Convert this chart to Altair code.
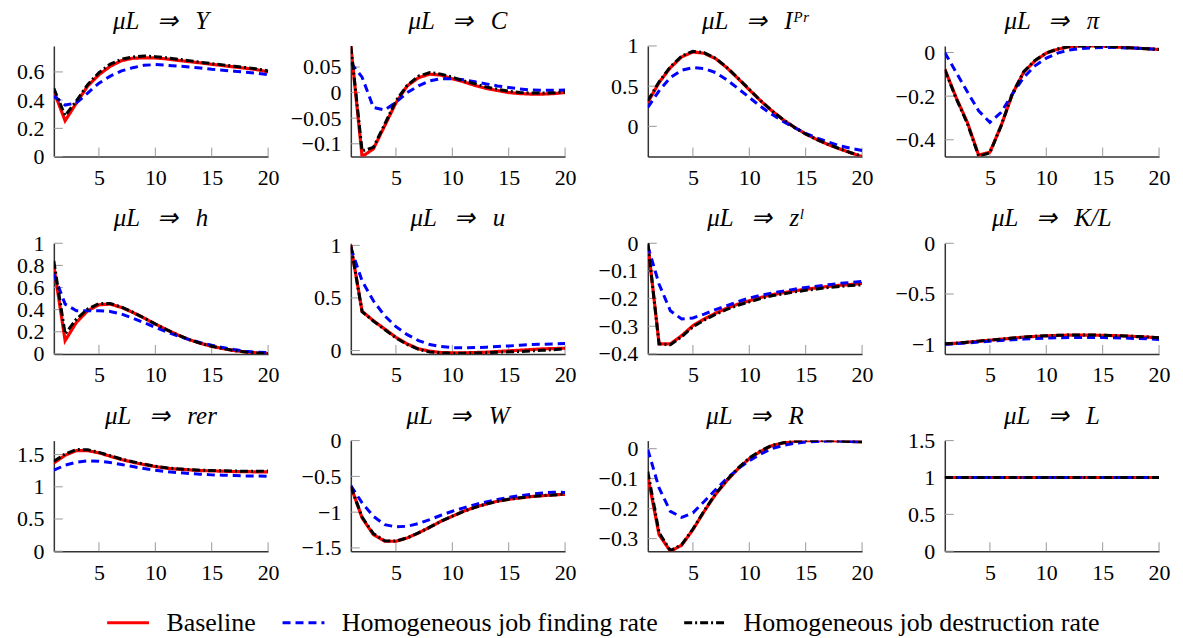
import altair as alt
import pandas as pd

T = list(range(1, 21))
SERIES = ["Baseline", "Homogeneous job finding rate", "Homogeneous job destruction rate"]
COLORS = ["#ff0000", "#0000ff", "#000000"]
DASHES = [[1, 0], [8, 5], [8, 3, 2, 3]]

# ---- panel titles ----
SP = "\u2002\u2009"
TITLES = [
    f"μL{SP}⇒{SP}Y", f"μL{SP}⇒{SP}C", f"μL{SP}⇒{SP}Iᴾʳ", f"μL{SP}⇒{SP}π",
    f"μL{SP}⇒{SP}h", f"μL{SP}⇒{SP}u", f"μL{SP}⇒{SP}zˡ", f"μL{SP}⇒{SP}K/L",
    f"μL{SP}⇒{SP}rer", f"μL{SP}⇒{SP}W", f"μL{SP}⇒{SP}R", f"μL{SP}⇒{SP}L",
]

# ---- series values (t = 1..20) ----
Y_base = [0.465, 0.254, 0.38, 0.50, 0.58, 0.64, 0.68, 0.697, 0.70, 0.699, 0.692, 0.682, 0.673, 0.664, 0.654, 0.645, 0.635, 0.626, 0.616, 0.60]
Y_find = [0.43, 0.365, 0.38, 0.45, 0.52, 0.57, 0.607, 0.63, 0.647, 0.652, 0.647, 0.642, 0.635, 0.628, 0.619, 0.612, 0.605, 0.598, 0.59, 0.58]
Y_destr = [0.483, 0.29, 0.395, 0.51, 0.595, 0.655, 0.69, 0.706, 0.713, 0.708, 0.70, 0.69, 0.68, 0.668, 0.659, 0.65, 0.64, 0.631, 0.621, 0.607]

C_base = [0.091, -0.125, -0.11, -0.065, -0.02, 0.013, 0.029, 0.036, 0.034, 0.027, 0.021, 0.014, 0.008, 0.004, 0.0, -0.002, -0.003, -0.003, -0.002, 0.0]
C_find = [0.058, 0.03, -0.029, -0.034, -0.019, 0.0, 0.013, 0.023, 0.027, 0.027, 0.025, 0.021, 0.017, 0.013, 0.010, 0.007, 0.005, 0.0045, 0.0045, 0.005]
C_destr = [0.091, -0.114, -0.107, -0.062, -0.016, 0.014, 0.032, 0.039, 0.036, 0.030, 0.023, 0.017, 0.011, 0.0065, 0.0026, 0.0, -0.001, -0.001, -0.0006, 0.001]

I_base = [0.298, 0.545, 0.73, 0.864, 0.926, 0.909, 0.843, 0.73, 0.595, 0.455, 0.318, 0.194, 0.083, -0.012, -0.095, -0.165, -0.227, -0.28, -0.33, -0.376]
I_find = [0.236, 0.442, 0.607, 0.698, 0.731, 0.719, 0.67, 0.579, 0.471, 0.36, 0.248, 0.149, 0.062, -0.017, -0.087, -0.145, -0.194, -0.24, -0.273, -0.30]
I_destr = [0.318, 0.555, 0.74, 0.875, 0.934, 0.915, 0.848, 0.735, 0.60, 0.46, 0.32, 0.195, 0.083, -0.012, -0.095, -0.165, -0.225, -0.278, -0.328, -0.372]

PI_base = [-0.076, -0.206, -0.32, -0.47, -0.457, -0.335, -0.19, -0.09, -0.038, -0.003, 0.015, 0.026, 0.03, 0.03, 0.029, 0.026, 0.023, 0.02, 0.017, 0.014]
PI_find = [0.0, -0.09, -0.18, -0.267, -0.32, -0.274, -0.19, -0.114, -0.061, -0.026, -0.003, 0.011, 0.018, 0.021, 0.023, 0.023, 0.021, 0.02, 0.017, 0.014]
PI_destr = [-0.078, -0.21, -0.325, -0.475, -0.46, -0.335, -0.188, -0.088, -0.036, -0.002, 0.016, 0.027, 0.03, 0.03, 0.029, 0.026, 0.023, 0.02, 0.017, 0.014]

H_base = [0.796, 0.12, 0.285, 0.39, 0.444, 0.45, 0.42, 0.375, 0.324, 0.27, 0.219, 0.171, 0.129, 0.096, 0.069, 0.048, 0.03, 0.018, 0.009, 0.003]
H_find = [0.72, 0.45, 0.39, 0.39, 0.39, 0.384, 0.36, 0.324, 0.282, 0.24, 0.2, 0.162, 0.129, 0.102, 0.078, 0.057, 0.039, 0.024, 0.015, 0.012]
H_destr = [0.84, 0.18, 0.315, 0.405, 0.456, 0.455, 0.423, 0.377, 0.325, 0.27, 0.219, 0.171, 0.129, 0.096, 0.069, 0.048, 0.03, 0.018, 0.009, 0.003]

U_base = [1.0, 0.372, 0.284, 0.205, 0.126, 0.063, 0.016, -0.006, -0.019, -0.022, -0.022, -0.019, -0.016, -0.009, -0.003, 0.003, 0.009, 0.016, 0.019, 0.022]
U_find = [0.978, 0.662, 0.473, 0.331, 0.227, 0.151, 0.095, 0.057, 0.038, 0.028, 0.025, 0.028, 0.032, 0.038, 0.044, 0.05, 0.057, 0.06, 0.063, 0.066]
U_destr = [1.0, 0.37, 0.28, 0.2, 0.12, 0.058, 0.012, -0.013, -0.022, -0.025, -0.025, -0.023, -0.02, -0.016, -0.012, -0.009, -0.004, 0.002, 0.008, 0.016]

Z_base = [0.0, -0.364, -0.364, -0.334, -0.298, -0.274, -0.253, -0.235, -0.22, -0.208, -0.196, -0.186, -0.179, -0.172, -0.166, -0.161, -0.156, -0.152, -0.149, -0.145]
Z_find = [-0.01, -0.148, -0.244, -0.274, -0.27, -0.256, -0.24, -0.226, -0.211, -0.198, -0.188, -0.18, -0.173, -0.166, -0.16, -0.155, -0.15, -0.145, -0.142, -0.138]
Z_destr = [0.0, -0.364, -0.367, -0.338, -0.302, -0.278, -0.257, -0.239, -0.224, -0.212, -0.2, -0.19, -0.183, -0.176, -0.17, -0.165, -0.16, -0.156, -0.153, -0.15]

KL_base = [-0.99, -0.985, -0.975, -0.965, -0.955, -0.945, -0.935, -0.925, -0.918, -0.912, -0.908, -0.905, -0.904, -0.905, -0.907, -0.91, -0.914, -0.919, -0.925, -0.932]
KL_find = [-0.995, -0.99, -0.982, -0.973, -0.965, -0.957, -0.95, -0.944, -0.938, -0.934, -0.931, -0.929, -0.928, -0.928, -0.929, -0.931, -0.934, -0.938, -0.942, -0.947]
KL_destr = [-0.99, -0.985, -0.975, -0.964, -0.954, -0.944, -0.934, -0.924, -0.917, -0.911, -0.907, -0.904, -0.903, -0.904, -0.906, -0.909, -0.913, -0.918, -0.924, -0.931]

RER_base = [1.37, 1.49, 1.562, 1.562, 1.526, 1.474, 1.423, 1.381, 1.345, 1.314, 1.288, 1.273, 1.262, 1.252, 1.247, 1.242, 1.236, 1.236, 1.231, 1.231]
RER_find = [1.257, 1.335, 1.381, 1.402, 1.397, 1.376, 1.345, 1.314, 1.283, 1.257, 1.236, 1.221, 1.205, 1.195, 1.185, 1.18, 1.174, 1.169, 1.169, 1.164]
RER_destr = [1.397, 1.51, 1.578, 1.575, 1.535, 1.482, 1.43, 1.388, 1.352, 1.32, 1.295, 1.279, 1.268, 1.258, 1.253, 1.248, 1.244, 1.242, 1.242, 1.244]

W_base = [-0.638, -1.08, -1.313, -1.407, -1.407, -1.36, -1.29, -1.211, -1.127, -1.057, -0.987, -0.932, -0.885, -0.848, -0.82, -0.801, -0.782, -0.769, -0.759, -0.75]
W_find = [-0.629, -0.871, -1.057, -1.174, -1.206, -1.197, -1.16, -1.104, -1.043, -0.987, -0.941, -0.894, -0.857, -0.824, -0.792, -0.769, -0.75, -0.731, -0.72, -0.725]
W_destr = [-0.64, -1.07, -1.30, -1.40, -1.405, -1.36, -1.29, -1.21, -1.127, -1.057, -0.99, -0.934, -0.886, -0.849, -0.82, -0.80, -0.782, -0.769, -0.759, -0.75]

R_base = [-0.092, -0.287, -0.342, -0.322, -0.27, -0.209, -0.153, -0.107, -0.067, -0.033, -0.009, 0.01, 0.019, 0.024, 0.027, 0.027, 0.027, 0.026, 0.024, 0.023]
R_find = [-0.003, -0.131, -0.209, -0.229, -0.214, -0.176, -0.137, -0.1, -0.067, -0.04, -0.018, 0.0, 0.011, 0.018, 0.022, 0.024, 0.026, 0.026, 0.024, 0.023]
R_destr = [-0.076, -0.28, -0.34, -0.32, -0.268, -0.207, -0.151, -0.105, -0.065, -0.031, -0.007, 0.011, 0.02, 0.025, 0.027, 0.027, 0.027, 0.026, 0.024, 0.023]

L_base = [1.0] * 20
L_find = [1.0] * 20
L_destr = [1.0] * 20

# ---- axis ranges and tick labels ----
Y_DOMAINS = [
    [0, 0.784], [-0.125, 0.091], [-0.376, 1.0], [-0.477, 0.03],
    [0, 1.0], [-0.032, 1.02], [-0.4, 0.0], [-1.09, 0.0],
    [0, 1.717], [-1.546, 0.0], [-0.342, 0.027], [0, 1.5],
]
Y_TICKS = [
    [0, 0.2, 0.4, 0.6], [-0.1, -0.05, 0, 0.05], [0, 0.5, 1], [-0.4, -0.2, 0],
    [0, 0.2, 0.4, 0.6, 0.8, 1], [0, 0.5, 1], [-0.4, -0.3, -0.2, -0.1, 0], [-1, -0.5, 0],
    [0, 0.5, 1, 1.5], [-1.5, -1, -0.5, 0], [-0.3, -0.2, -0.1, 0], [0, 0.5, 1, 1.5],
]
X_TICKS = [5, 10, 15, 20]

DATA = [
    (Y_base, Y_find, Y_destr), (C_base, C_find, C_destr), (I_base, I_find, I_destr), (PI_base, PI_find, PI_destr),
    (H_base, H_find, H_destr), (U_base, U_find, U_destr), (Z_base, Z_find, Z_destr), (KL_base, KL_find, KL_destr),
    (RER_base, RER_find, RER_destr), (W_base, W_find, W_destr), (R_base, R_find, R_destr), (L_base, L_find, L_destr),
]

PW, PH = 215, 111
TICK = 9
FONT = "Liberation Serif"
TITLE_SIZE = 25
LABEL_SIZE = 22
TITLE_GAP = 17
LINE_W = [3.2, 3.0, 3.0]

LEG = alt.Legend(
    title=None, orient="none", legendX=52, legendY=556, direction="horizontal", columns=3,
    symbolType="stroke", symbolSize=1764, symbolStrokeWidth=3, labelFont=FONT, labelFontSize=26,
    labelColor="#000", labelLimit=1000, labelOffset=16, columnPadding=20, padding=0,
)


def panel(i):
    base, find, destr = DATA[i]
    dom = Y_DOMAINS[i]
    ticks = Y_TICKS[i]
    df = pd.DataFrame({
        "t": T * 3,
        "v": list(base) + list(find) + list(destr),
        "s": [SERIES[0]] * 20 + [SERIES[1]] * 20 + [SERIES[2]] * 20,
    })
    xsc = alt.Scale(domain=[1, 20], nice=False, zero=False)
    ysc = alt.Scale(domain=dom, nice=False, zero=False)
    xax = alt.Axis(values=X_TICKS, ticks=False, tickSize=0, labelPadding=11, labelFont=FONT,
                   labelFontSize=LABEL_SIZE, labelColor="#000", domainColor="#333", domainWidth=1.5,
                   labelFlush=False, labelOverlap=False, grid=False, title=None)
    yax = alt.Axis(values=ticks, format="~g", ticks=False, tickSize=0, labelPadding=10, labelFont=FONT,
                   labelFontSize=LABEL_SIZE, labelColor="#000", domainColor="#333", domainWidth=1.5,
                   labelFlush=False, labelOverlap=False, grid=False, title=None)
    x = alt.X("t:Q", scale=xsc, axis=xax)
    y = alt.Y("v:Q", scale=ysc, axis=yax)

    xt = alt.Chart(pd.DataFrame({"t": X_TICKS})).mark_rule(color="#999", strokeWidth=1).encode(
        x=x, y=alt.value(PH), y2=alt.value(PH - TICK))
    yt = alt.Chart(pd.DataFrame({"v": ticks})).mark_rule(color="#999", strokeWidth=1).encode(
        y=y, x=alt.value(0), x2=alt.value(TICK))

    color = alt.Color("s:N", scale=alt.Scale(domain=SERIES, range=COLORS), legend=LEG)
    dash = alt.StrokeDash("s:N", scale=alt.Scale(domain=SERIES, range=DASHES), legend=LEG)
    lines = []
    for k, s in enumerate(SERIES):
        lines.append(
            alt.Chart(df).transform_filter(alt.datum.s == s)
            .mark_line(strokeWidth=LINE_W[k], clip=True)
            .encode(x=x, y=y, color=color, strokeDash=dash)
        )
    # title offset: keep the title baseline a fixed gap above the plot top
    dist = (dom[1] - max(ticks)) / (dom[1] - dom[0]) * PH
    ext = max(0.0, LABEL_SIZE / 2 - dist)
    off = TITLE_GAP - TITLE_SIZE - ext
    title = alt.TitleParams(TITLES[i], font=FONT, fontSize=TITLE_SIZE, fontStyle="italic", fontWeight="normal",
                            color="#000", offset=off, baseline="alphabetic", anchor="middle", frame="group")
    return alt.layer(xt, yt, *lines).properties(width=PW, height=PH, title=title)


chart = alt.concat(*[panel(i) for i in range(12)], columns=4,
                   spacing={"row": 87, "column": 83}, bounds="flush").properties(
    padding={"left": 8, "top": 0, "right": 5, "bottom": 5}
).configure_view(stroke=None)

chart.save("out.html", embed_options={"renderer": "svg", "actions": False})
